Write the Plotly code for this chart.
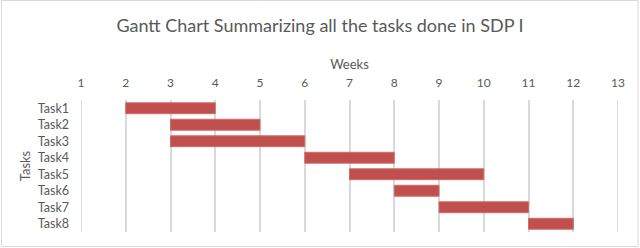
import plotly.graph_objects as go

tasks = ["Task1", "Task2", "Task3", "Task4", "Task5", "Task6", "Task7", "Task8"]
start_week = [2, 3, 3, 6, 7, 8, 9, 11]
end_week = [4, 5, 6, 8, 10, 9, 11, 12]
week_ticks = list(range(1, 14))

durations = [e - s for s, e in zip(start_week, end_week)]

W, H = 640, 248
ml, mr, mt, mb = 81, 22, 100, 16
pw, ph = W - ml - mr, H - mt - mb

fig = go.Figure(go.Bar(
    y=tasks, x=durations, base=start_week, orientation="h",
    marker=dict(color="#C0504D", line=dict(color="#D26A67", width=1)),
    width=0.66,
    hoverinfo="skip",
))

font = "Lato, 'Open Sans', sans-serif"
fig.update_layout(
    width=W, height=H,
    margin=dict(l=ml, r=mr, t=mt, b=mb, autoexpand=False),
    paper_bgcolor="white", plot_bgcolor="white",
    showlegend=False,
    font=dict(family=font, color="#595959", size=12),
    title=dict(text="Gantt Chart Summarizing all the tasks done in SDP I",
               x=0.5, xanchor="center", y=1 - 26 / H, yanchor="middle",
               font=dict(size=18, color="#595959", family=font)),
    xaxis=dict(side="top", range=[1, 13], tickvals=week_ticks, ticktext=[str(v) for v in week_ticks],
               showgrid=True, gridcolor="#D9D9D9", gridwidth=2, zeroline=False,
               showline=False, ticks="", ticklen=0, automargin=False, ticklabelstandoff=10,
               title=dict(text="Weeks", font=dict(size=13, color="#595959"), standoff=2),
               tickfont=dict(size=12, color="#595959")),
    yaxis=dict(categoryorder="array", categoryarray=tasks, autorange="reversed",
               showgrid=False, zeroline=False, showline=False, ticks="", automargin=False,
               ticklabelstandoff=11,
               title=dict(text="Tasks", font=dict(size=13, color="#595959"), standoff=4),
               tickfont=dict(size=12.5, color="#595959")),
    shapes=[
        dict(type="rect", xref="paper", yref="paper",
             x0=-(ml - 1.5) / pw, x1=1 + (mr - 2) / pw,
             y0=-(mb - 1.5) / ph, y1=1 + (mt - 0.5) / ph,
             line=dict(color="#D9D9D9", width=1), fillcolor="rgba(0,0,0,0)", layer="below"),
        dict(type="line", xref="x", yref="paper", x0=1, x1=1, y0=0, y1=1,
             line=dict(color="#D9D9D9", width=2), layer="below"),
        dict(type="line", xref="x", yref="paper", x0=13, x1=13, y0=0, y1=1,
             line=dict(color="#D9D9D9", width=2), layer="below"),
    ],
)

fig.write_html("out.html", config={"displayModeBar": False},
               post_script="document.body.style.margin='0';")
